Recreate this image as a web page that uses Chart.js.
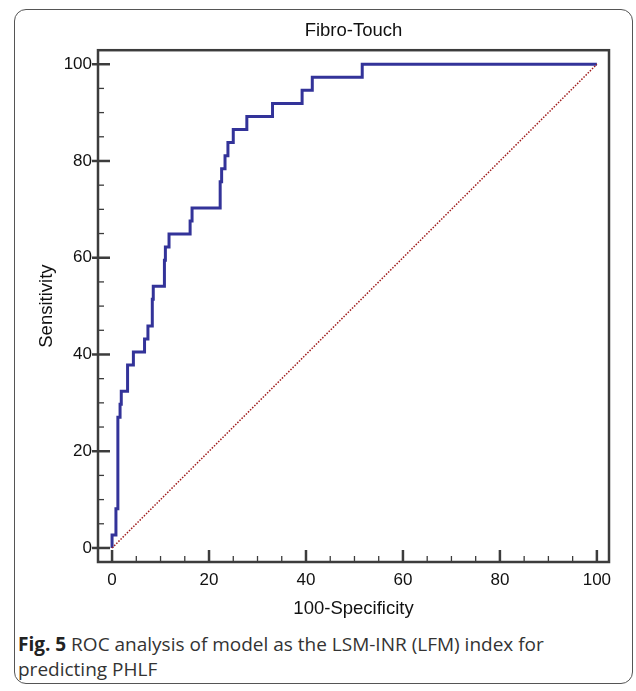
<!DOCTYPE html>
<html>
<head>
<meta charset="utf-8">
<script src="https://cdn.jsdelivr.net/npm/chart.js@4.4.1/dist/chart.umd.min.js"></script>
<style>
  body { margin: 0; background: #fff; }
  #wrap { position: relative; width: 636px; height: 691px; overflow: hidden; }
  #box { position: absolute; left: 14px; top: 9px; width: 617px; height: 673px; border: 1.5px solid #555; border-radius: 12px; }
  #chart { position: absolute; left: 0; top: 0; }
  #caption { position: absolute; left: 18px; top: 632px; width: 610px; font-family: "Open Sans"; font-size: 19px; line-height: 25px; color: #333; }
  #caption b { color: #222; }
</style>
</head>
<body>
<div id="wrap">
  <div id="box"></div>
  <canvas id="chart" width="636" height="625"></canvas>
  <div id="caption"><b>Fig. 5</b> ROC analysis of model as the LSM-INR (LFM) index for<br>predicting PHLF</div>
</div>
<script>
// ROC points (100-Specificity, Sensitivity)
const fpr = [0, 0, 0.8, 1.2, 1.65, 1.9, 3.2, 4.4, 6.7, 7.4, 8.3, 8.5, 10.8, 11.0, 11.75, 16.1, 16.5, 22.3, 22.6, 23.3, 23.9, 25.0, 27.8, 33.1, 39.2, 41.3, 51.6, 100];
const tpr = [0, 2.7, 8.1, 27.0, 29.7, 32.4, 37.8, 40.5, 43.2, 45.9, 51.4, 54.1, 59.5, 62.2, 64.9, 67.6, 70.3, 75.7, 78.4, 81.1, 83.8, 86.5, 89.2, 91.9, 94.6, 97.3, 100, 100];

// reference diagonal
const chanceX = [0, 100];
const chanceY = [0, 100];

const tickValues = [0, 20, 40, 60, 80, 100];
const minorStep = 5;

const toPoints = (xs, ys) => xs.map((v, i) => ({ x: v, y: ys[i] }));

const fontTick = { family: 'Liberation Sans', size: 17 };
const fontTitle = { family: 'Liberation Sans', size: 18.5 };

// box frame + ticks drawn inside the frame
const frameTicks = {
  id: 'frameTicks',
  afterDatasetsDraw(chart) {
    const { ctx, chartArea: a, scales: { x, y } } = chart;
    ctx.save();
    ctx.strokeStyle = '#3c3c3c';
    for (let v = 0; v <= 100; v += minorStep) {
      const major = tickValues.includes(v);
      const len = major ? 12 : 6;
      ctx.lineWidth = major ? 2.5 : 1.3;
      const px = x.getPixelForValue(v);
      ctx.beginPath();
      ctx.moveTo(px, a.bottom);
      ctx.lineTo(px, a.bottom - len);
      ctx.stroke();
      const py = y.getPixelForValue(v);
      ctx.beginPath();
      ctx.moveTo(a.left - (major ? 6 : 0), py);
      ctx.lineTo(a.left + len, py);
      ctx.stroke();
    }
    ctx.lineWidth = 2.5;
    ctx.strokeRect(a.left, a.top, a.width, a.height);
    ctx.restore();
  }
};

const setTicks = (scale) => {
  scale.ticks = tickValues.map(v => ({ value: v }));
};

new Chart(document.getElementById('chart'), {
  type: 'scatter',
  data: {
    datasets: [{
      data: toPoints(chanceX, chanceY),
      showLine: true,
      borderColor: '#a01c1c',
      borderWidth: 1.5,
      borderDash: [1.5, 1.5],
      pointRadius: 0
    }, {
      data: toPoints(fpr, tpr),
      showLine: true,
      stepped: 'before',
      borderColor: '#333399',
      borderWidth: 3,
      pointRadius: 0
    }]
  },
  options: {
    responsive: false,
    animation: false,
    devicePixelRatio: 1,
    layout: { padding: { left: 0, right: 27, top: 0, bottom: 0 } },
    plugins: {
      legend: { display: false },
      tooltip: { enabled: false },
      title: {
        display: true,
        fullSize: false,
        text: 'Fibro-Touch',
        color: '#111',
        font: { family: 'Liberation Sans', size: 18.5, weight: 'normal' },
        padding: { top: 20, bottom: 8 }
      }
    },
    scales: {
      x: {
        type: 'linear',
        min: -2.9,
        max: 102.5,
        afterBuildTicks: setTicks,
        afterFit: (s) => { s.height = 63; },
        grid: { display: false, drawTicks: false },
        border: { display: false },
        ticks: { color: '#111', font: fontTick, padding: 8 },
        title: { display: true, text: '100-Specificity', color: '#111', font: fontTitle, padding: { top: 0, bottom: 5 } }
      },
      y: {
        type: 'linear',
        min: -2.9,
        max: 102.9,
        afterBuildTicks: setTicks,
        afterFit: (s) => { s.width = 98; },
        grid: { display: false, drawTicks: false },
        border: { display: false },
        ticks: { color: '#111', font: fontTick, padding: 6 },
        title: { display: true, text: 'Sensitivity', color: '#111', font: fontTitle, padding: { top: 36, bottom: 0 } }
      }
    }
  },
  plugins: [frameTicks]
});
</script>
</body>
</html>
